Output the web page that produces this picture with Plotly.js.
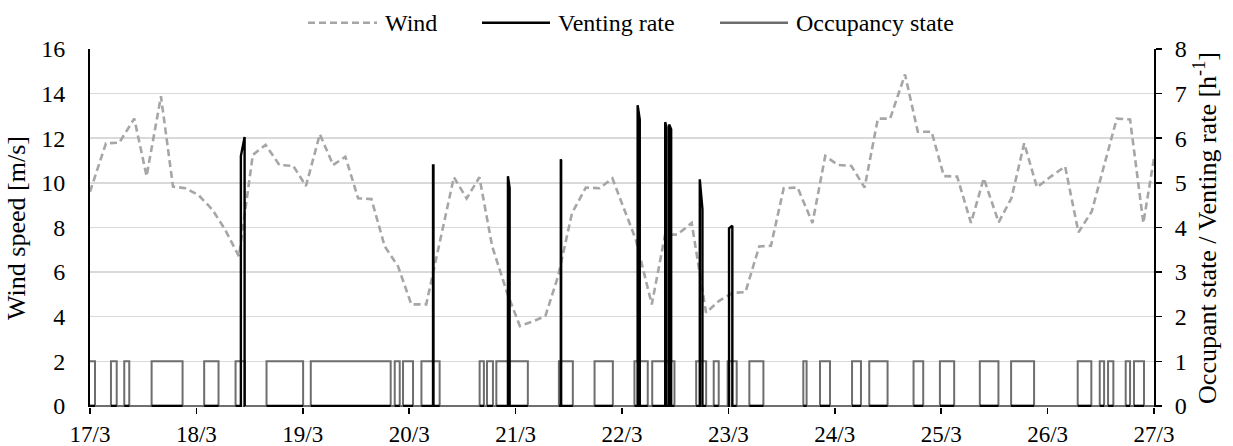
<!DOCTYPE html>
<html>
<head>
<meta charset="utf-8">
<script src="https://cdn.plot.ly/plotly-3.0.1.min.js"></script>
<style>html,body{margin:0;padding:0;background:#fff;}#chart{width:1233px;height:446px;}</style>
</head>
<body>
<div id="chart"></div>
<script>
// ---- Data (x in days since 17/3 00:00) ----
const dayTicks = [0,1,2,3,4,5,6,7,8,9,10];
const dayLabels = ['17/3','18/3','19/3','20/3','21/3','22/3','23/3','24/3','25/3','26/3','27/3'];

const windTime = [0.00,0.15,0.275,0.416,0.532,0.667,0.78,0.895,1.02,1.15,1.27,1.40,1.53,1.65,1.78,1.91,2.03,2.16,2.285,2.40,2.52,2.645,2.77,2.895,3.02,3.16,3.42,3.54,3.66,3.78,3.92,4.04,4.17,4.28,4.40,4.53,4.66,4.79,4.91,5.13,5.28,5.405,5.52,5.655,5.79,5.91,6.04,6.16,6.29,6.40,6.52,6.65,6.79,6.91,7.03,7.155,7.28,7.405,7.52,7.66,7.78,7.91,8.025,8.15,8.28,8.40,8.54,8.66,8.78,8.90,9.03,9.165,9.29,9.415,9.65,9.775,9.90,10.0];
const windSpeed = [9.6,11.77,11.8,12.88,10.3,13.88,9.83,9.76,9.45,8.8,7.9,6.7,11.25,11.7,10.8,10.76,9.86,12.18,10.8,11.17,9.31,9.27,7.15,6.26,4.55,4.55,10.25,9.3,10.25,7.15,5.07,3.58,3.8,4.03,5.82,8.64,9.79,9.76,10.2,7.45,4.55,7.68,7.68,8.2,4.18,4.7,5.07,5.1,7.15,7.18,9.76,9.79,8.2,11.2,10.8,10.76,9.79,12.88,12.88,14.86,12.29,12.29,10.3,10.28,8.2,10.2,8.23,9.31,11.77,9.8,10.28,10.73,7.78,8.72,12.88,12.84,8.2,11.1];

// occupied periods (start, end), state = 1 inside
const occStart = [0.000,0.197,0.322,0.579,1.073,1.368,1.659,2.075,2.864,2.942,3.115,3.662,3.731,3.819,4.407,4.742,5.117,5.284,5.697,5.862,5.993,6.197,6.704,6.861,7.162,7.324,7.740,7.988,8.363,8.657,9.283,9.490,9.568,9.734,9.812];
const occEnd   = [0.047,0.251,0.369,0.870,1.208,1.455,2.003,2.826,2.911,3.036,3.286,3.702,3.787,4.115,4.538,4.914,5.242,5.493,5.791,5.909,6.078,6.329,6.735,6.955,7.246,7.496,7.831,8.122,8.538,8.873,9.411,9.531,9.618,9.775,9.906];

// venting bursts: rises at ventT1 to ventR1, reaches ventR2 at ventT2, then falls to 0
const ventT1 = [1.418,3.224,3.928,4.425,5.147,5.406,5.443,5.731,6.006];
const ventR1 = [5.60,5.39,5.15,5.53,6.74,6.36,6.31,5.08,3.98];
const ventT2 = [1.453,3.228,3.944,4.428,5.167,5.418,5.462,5.756,6.037];
const ventR2 = [6.03,5.39,4.88,5.50,6.42,6.25,6.20,4.41,4.04];

// ---- Build traces ----
const occX = [], occY = [];
for (let i = 0; i < occStart.length; i++) {
  if (i === 0 && occStart[0] > 0) { occX.push(0); occY.push(0); }
  occX.push(occStart[i]); occY.push(1);
  occX.push(occEnd[i]); occY.push(0);
}
occX.push(10); occY.push(0);

const ventX = [], ventY = [];
for (let i = 0; i < occStart.length; i++) {
  ventX.push(occStart[i]); ventY.push(0);
  for (let k = 0; k < ventT1.length; k++) {
    if (ventT1[k] >= occStart[i] && ventT1[k] <= occEnd[i]) {
      ventX.push(ventT1[k], ventT1[k], ventT2[k], ventT2[k]);
      ventY.push(0, ventR1[k], ventR2[k], 0);
    }
  }
  ventX.push(occEnd[i]); ventY.push(0);
  ventX.push(null); ventY.push(null);
}

const FONT = '"Liberation Serif", "Times New Roman", Times, serif';
const FS = 23, FT = 26, FL = 24, FY = 24;
const windColor = '#a6a6a6', ventColor = '#000000', occColor = '#6e6e6e';

const traces = [
  {x: windTime, y: windSpeed, type: 'scatter', mode: 'lines', name: 'Wind',
   line: {color: windColor, width: 2.6, dash: '7px,4px'}, yaxis: 'y', showlegend: false},
  {x: occX, y: occY, type: 'scatter', mode: 'lines', name: 'Occupancy state',
   line: {color: occColor, width: 2, shape: 'hv'}, yaxis: 'y2', showlegend: false},
  {x: ventX, y: ventY, type: 'scatter', mode: 'lines', name: 'Venting rate',
   line: {color: ventColor, width: 2.4}, yaxis: 'y2', connectgaps: false, showlegend: false}
];

// custom legend (pixel positions converted to paper fractions)
const plotL = 90, plotW = 1064;
const px = v => (v - plotL) / plotW;
const legY = 1.0734;
const legendItems = [
  {x0: 308, x1: 377, tx: 383, text: 'Wind', color: windColor, dash: '7px,4px'},
  {x0: 482, x1: 550, tx: 556, text: 'Venting rate', color: ventColor, dash: 'solid'},
  {x0: 720, x1: 788, tx: 794, text: 'Occupancy state', color: occColor, dash: 'solid'}
];
const shapes = legendItems.map(it => ({type: 'line', xref: 'paper', yref: 'paper',
  x0: px(it.x0), x1: px(it.x1), y0: legY, y1: legY,
  line: {color: it.color, width: 2.6, dash: it.dash}}));
const annotations = legendItems.map(it => ({xref: 'paper', yref: 'paper', x: px(it.tx), y: legY,
  xanchor: 'left', yanchor: 'middle', showarrow: false, text: it.text,
  font: {family: FONT, size: FL, color: '#000'}}));

const layout = {
  width: 1233, height: 446,
  margin: {l: 90, r: 79, t: 49, b: 39},
  paper_bgcolor: '#fff', plot_bgcolor: '#fff',
  font: {family: FONT, size: FS, color: '#000'},
  showlegend: false,
  xaxis: {range: [0, 10], tickvals: dayTicks, ticktext: dayLabels, ticks: 'outside', ticklen: 6,
    tickwidth: 1.5, tickcolor: '#000', showgrid: false, zeroline: false, showline: false,
    tickfont: {family: FONT, size: FS, color: '#000'}},
  yaxis: {range: [-0.05, 16], tickvals: [0,2,4,6,8,10,12,14,16], showgrid: true, gridcolor: '#d9d9d9',
    gridwidth: 1.5, zeroline: false, showline: true, linecolor: '#000', linewidth: 2,
    ticks: 'outside', ticklen: 0, tickcolor: 'rgba(0,0,0,0)',
    ticklabelstandoff: 18, tickfont: {family: FONT, size: FY, color: '#000'},
    title: {text: 'Wind speed [m/s]', font: {family: FONT, size: FT, color: '#000'}, standoff: 8}},
  yaxis2: {range: [-0.025, 8], tickvals: [0,1,2,3,4,5,6,7,8], overlaying: 'y', side: 'right',
    showgrid: false, zeroline: false, showline: true, linecolor: '#000', linewidth: 2,
    ticks: 'outside', ticklen: 6, tickwidth: 1.5, tickcolor: '#000', ticklabelstandoff: 8,
    tickfont: {family: FONT, size: FY, color: '#000'},
    title: {text: 'Occupant state / Venting rate [h<sup>-1</sup>]', font: {family: FONT, size: FT, color: '#000'}, standoff: 12}},
  shapes: shapes,
  annotations: annotations
};

Plotly.newPlot('chart', traces, layout, {displayModeBar: false, staticPlot: true});
</script>
</body>
</html>
